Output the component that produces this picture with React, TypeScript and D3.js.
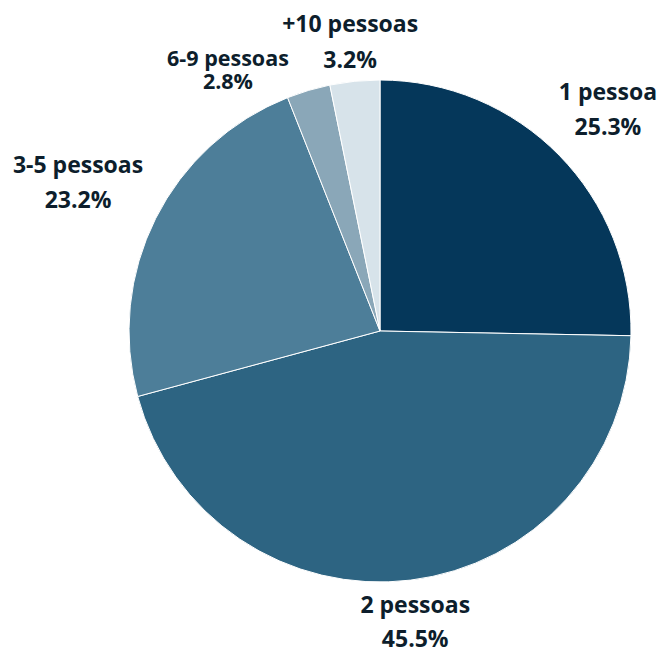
import React, { useEffect, useRef } from "react";
import * as d3 from "d3";

// household size distribution
const categories = ["1 pessoa", "2 pessoas", "3-5 pessoas", "6-9 pessoas", "+10 pessoas"];
const shares = [25.3, 45.5, 23.2, 2.8, 3.2];
const colors = ["#05375a", "#2d6482", "#4d7e99", "#8aa7b8", "#d7e3ea"];

// label placement: angle nudge (deg), distance from centre, font size, line gap
const labelNudge = [1.4, 0.3, -1.7, -14.4, -0.3];
const labelDist = [312, 301, 333, 295.6, 282.6];
const labelSize = [23, 23, 23, 21.5, 23];
const labelGap = [35, 34, 35, 23, 36];

const W = 659, H = 651;
const cx = 380, cy = 331, radius = 251;

export default function App() {
  const ref = useRef<SVGSVGElement>(null);

  useEffect(() => {
    const svg = d3.select(ref.current);
    svg.selectAll("*").remove();

    const data = categories.map((c, i) => ({ name: c, value: shares[i], i }));
    const pie = d3.pie<any>().value(d => d.value).sort(null);
    const arc = d3.arc<any>().innerRadius(0).outerRadius(radius);
    const arcs = pie(data);

    const g = svg.append("g").attr("transform", `translate(${cx},${cy})`);

    g.selectAll("path.slice")
      .data(arcs)
      .enter()
      .append("path")
      .attr("class", "slice")
      .attr("d", arc)
      .attr("fill", (d: any) => colors[d.data.i])
      .attr("stroke", "#ffffff")
      .attr("stroke-width", 1);

    const labels = g.selectAll("g.lbl")
      .data(arcs)
      .enter()
      .append("g")
      .attr("class", "lbl")
      .attr("transform", (d: any) => {
        const i = d.data.i;
        const a = (d.startAngle + d.endAngle) / 2 + (labelNudge[i] * Math.PI) / 180;
        const r = labelDist[i];
        return `translate(${r * Math.sin(a)},${-r * Math.cos(a)})`;
      })
      .style("font-family", "'Open Sans', 'Noto Sans', sans-serif")
      .style("font-weight", "bold")
      .attr("fill", "#0d1e2c")
      .attr("text-anchor", "middle");

    labels.append("text")
      .attr("y", (d: any) => -labelGap[d.data.i] / 2)
      .style("font-size", (d: any) => labelSize[d.data.i] + "px")
      .text((d: any) => d.data.name);

    labels.append("text")
      .attr("y", (d: any) => labelGap[d.data.i] / 2)
      .style("font-size", (d: any) => labelSize[d.data.i] + "px")
      .text((d: any) => d3.format(".1f")(d.data.value) + "%");
  }, []);

  return (
    <div style={{ position: "absolute", left: 0, top: 0 }}>
      <svg ref={ref} width={W} height={H} style={{ display: "block", background: "#fff" }} />
    </div>
  );
}
